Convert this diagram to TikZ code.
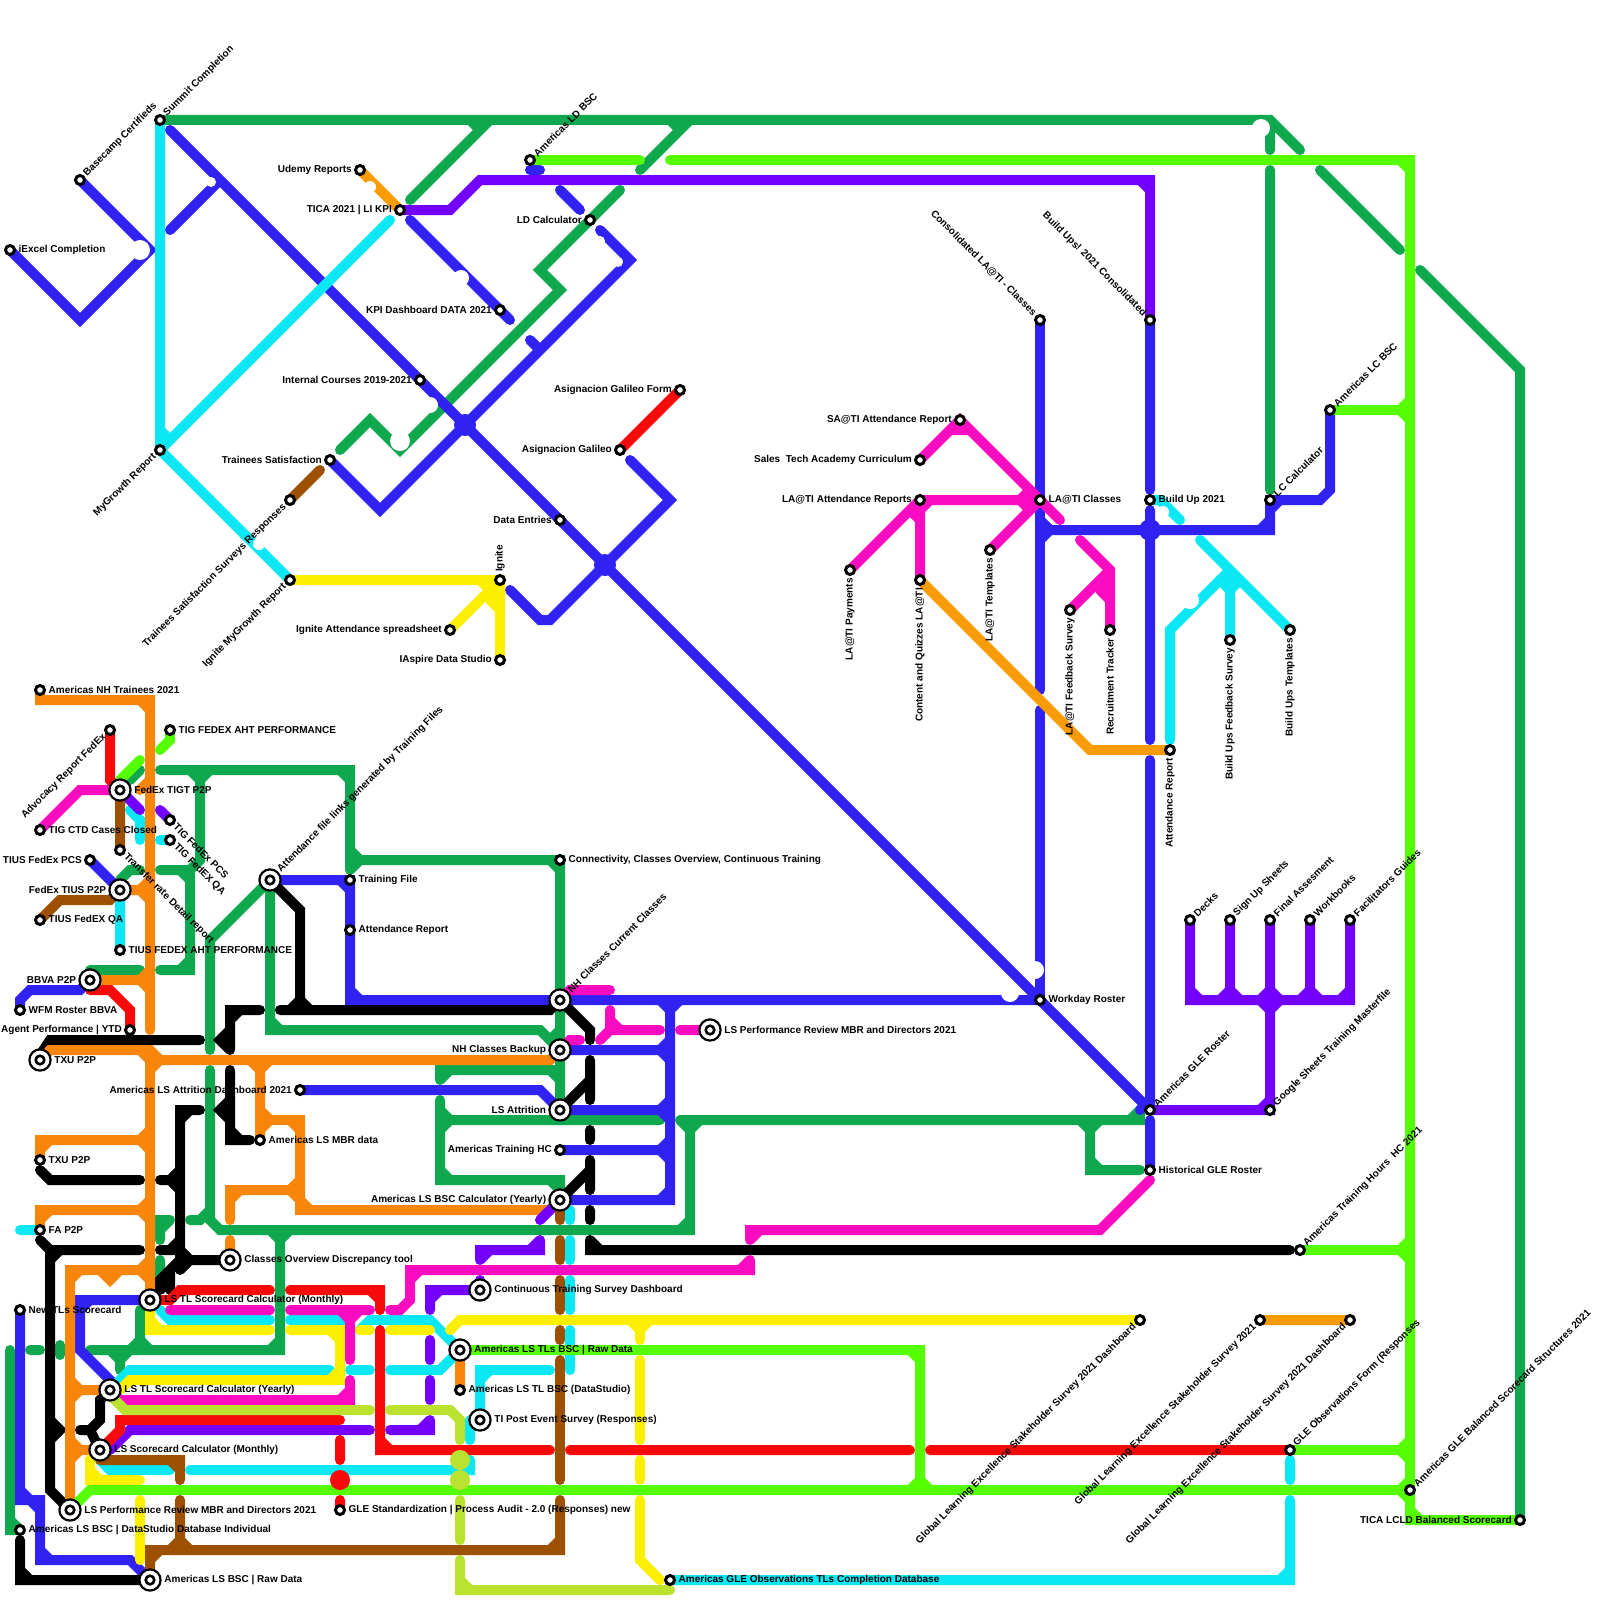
\documentclass[tikz,border=0pt]{standalone}
\usepackage{fontspec}
\setmainfont{Liberation Sans}
\usepackage{tikz}
\usetikzlibrary{positioning}
\definecolor{lnblue}{HTML}{2F22F3}
\definecolor{lngreen}{HTML}{0FA84F}
\definecolor{lncyan}{HTML}{0AE8F6}
\definecolor{lnorange}{HTML}{F8860A}
\definecolor{lnamber}{HTML}{FA9C00}
\definecolor{lnyellow}{HTML}{FCF000}
\definecolor{lnlime}{HTML}{55FF00}
\definecolor{lnviolet}{HTML}{7300FF}
\definecolor{lnpink}{HTML}{FB0CC0}
\definecolor{lnred}{HTML}{F80A0A}
\definecolor{lnbrown}{HTML}{9C5000}
\definecolor{lnolive}{HTML}{BCE230}
\begin{document}
\begin{tikzpicture}[
    x=1pt,y=-1pt,
    metro/.style={line width=10pt,line cap=round},
    blueline/.style={metro,lnblue},
    greenline/.style={metro,lngreen},
    cyanline/.style={metro,lncyan},
    orangeline/.style={metro,lnorange},
    amberline/.style={metro,lnamber},
    yellowline/.style={metro,lnyellow},
    limeline/.style={metro,lnlime},
    violetline/.style={metro,lnviolet},
    pinkline/.style={metro,lnpink},
    redline/.style={metro,lnred},
    brownline/.style={metro,lnbrown},
    oliveline/.style={metro,lnolive},
    blackline/.style={metro,black},
    st/.style={circle,draw=black,fill=white,line width=3pt,minimum size=9pt,inner sep=0pt},
    bst/.style={circle,draw=black,fill=white,line width=2.2pt,minimum size=21.2pt,inner sep=0pt,
        path picture={\draw[black,line width=2.6pt] (path picture bounding box.center) circle (4.3pt);}},
    lab/.style={font=\bfseries\fontsize{10pt}{11pt}\selectfont,inner sep=0pt,text=black},
]
\useasboundingbox (0,0) rectangle (1600,1600);
\fill[white] (0,0) rectangle (1600,1600);
% Green
\draw[greenline] (160,120) -- (1270,120) -- (1300,150) (1320,170) -- (1400,250) (1420,270) -- (1520,370) -- (1520,1520)
    (490,120) -- (410,200) (470,120) -- (480,130) (690,120) -- (640,170) (670,120) -- (680,130)
    (1270,130) -- (1270,150) (1270,170) -- (1270,490);
\draw[greenline] (620,190) -- (540,270) -- (560,290) -- (400,450) -- (370,420) -- (340,450);
\draw[greenline] (160,770) -- (350,770) -- (350,870) (340,770) -- (350,780) (350,850) -- (360,860) (350,870) -- (360,860)
    (350,860) -- (560,860) -- (560,1110) (550,860) -- (560,870);
\draw[greenline] (200,770) -- (200,860) -- (190,870) (190,770) -- (200,780) (210,770) -- (200,780)
    (160,870) -- (190,870) -- (190,970) -- (160,970) (180,870) -- (190,880) (180,970) -- (190,960);
\draw[greenline] (270,880) -- (210,940) -- (210,1050) (210,1070) -- (210,1220) -- (220,1230) -- (690,1230) -- (690,1120)
    (190,1220) -- (200,1220) -- (210,1210) (680,1120) -- (1140,1120) -- (1140,1110) (1130,1120) -- (1140,1110)
    (680,1120) -- (690,1130) (700,1120) -- (690,1130) (680,1230) -- (690,1220);
\draw[greenline] (1090,1120) -- (1090,1170) -- (1140,1170) (1080,1120) -- (1090,1130) (1100,1120) -- (1090,1130) (1090,1160) -- (1100,1170);
\draw[greenline] (270,880) -- (270,1030) -- (540,1030) -- (560,1050) (270,1020) -- (280,1030) (550,1040) -- (560,1030);
\draw[greenline] (90,970) -- (140,970) (130,780) -- (140,770) (120,880) -- (130,870) -- (140,870);
\draw[greenline] (160,1240) -- (160,1220) -- (170,1220) (160,1230) -- (170,1220) (160,1260) -- (160,1280);
\draw[greenline] (140,1310) -- (140,1350) (90,1350) -- (280,1350) -- (280,1230) (270,1230) -- (280,1240) (290,1230) -- (280,1240)
    (270,1350) -- (280,1340) (130,1350) -- (140,1340) (150,1350) -- (140,1340)
    (120,1350) -- (120,1370) (110,1350) -- (120,1360) (130,1350) -- (120,1360);
\draw[greenline] (10,1350) -- (10,1530) -- (20,1530) (10,1520) -- (20,1530) (30,1350) -- (40,1350) (60,1345) -- (60,1355);
\draw[greenline] (440,1080) -- (440,1070) -- (560,1070) (440,1080) -- (450,1070) (550,1070) -- (560,1080);
\draw[greenline] (440,1100) -- (440,1180) -- (560,1180) -- (560,1190) (440,1120) -- (660,1120)
    (440,1110) -- (450,1120) (440,1130) -- (450,1120) (440,1170) -- (450,1180) (550,1180) -- (560,1190);
% Blue
\draw[blueline] (10,250) -- (80,320) -- (150,250) -- (80,180);
\draw[blueline] (170,130) -- (1150,1110) (170,230) -- (220,180) (410,220) -- (510,320);
\draw[blueline] (330,460) -- (380,510) -- (630,260) -- (600,230) (530,340) -- (540,350);
\draw[blueline] (510,590) -- (540,620) -- (550,620) -- (670,500) -- (630,460);
\fill[lnblue] (465,425) circle (11pt) (605,565) circle (11pt) (1150,530) circle (11pt);
\draw[blueline] (530,170) -- (540,170) (560,190) -- (580,210);
\draw[blueline] (1040,320) -- (1040,690) (1040,710) -- (1040,1000);
\draw[blueline] (1040,530) -- (1270,530) -- (1270,500) -- (1320,500) -- (1330,490) -- (1330,410)
    (1040,520) -- (1050,530) (1040,540) -- (1050,530) (1260,530) -- (1270,520) (1270,510) -- (1280,500);
\draw[blueline] (1150,320) -- (1150,490) (1150,510) -- (1150,740) (1150,760) -- (1150,1110) (1140,1110) -- (1150,1100) (1150,1120) -- (1150,1170);
\draw[blueline] (90,860) -- (120,890) (20,1010) -- (20,1000) -- (30,990) -- (80,990) -- (90,980);
\draw[blueline] (270,880) -- (350,880) -- (350,1000) -- (1040,1000) (340,880) -- (350,890) (350,990) -- (360,1000);
\draw[blueline] (670,1000) -- (670,1200) -- (560,1200) (660,1000) -- (670,1010) (680,1000) -- (670,1010) (660,1200) -- (670,1190)
    (560,1050) -- (670,1050) (660,1050) -- (670,1040) (660,1050) -- (670,1060)
    (560,1110) -- (670,1110) (660,1110) -- (670,1100) (660,1110) -- (670,1120)
    (560,1150) -- (670,1150) (660,1150) -- (670,1140) (660,1150) -- (670,1160);
\draw[blueline] (300,1090) -- (540,1090) -- (560,1110);
\draw[blueline] (20,1310) -- (20,1500) -- (40,1500) -- (40,1560) -- (130,1560) -- (150,1580) (30,1500) -- (40,1510) (20,1490) -- (30,1500) (40,1550) -- (50,1560);
\draw[blueline] (150,1300) -- (80,1300) -- (80,1350) -- (115,1385) (80,1310) -- (90,1300);
% Black
\draw[blackline] (40,1055) -- (50,1040) -- (200,1040);
\draw[blackline] (260,1010) -- (230,1010) -- (230,1050) (230,1020) -- (240,1010) (230,1030) -- (220,1040) -- (230,1050);
\draw[blackline] (230,1070) -- (230,1140) -- (250,1140) (230,1130) -- (240,1140) (230,1100) -- (220,1110) -- (230,1120);
\draw[blackline] (200,1110) -- (180,1110) -- (180,1260) -- (230,1260) (180,1120) -- (190,1110) (180,1260) -- (150,1290) (170,1270) -- (170,1290) (160,1290) -- (170,1280) (180,1250) -- (190,1260) (180,1270) -- (190,1260)
    (160,1180) -- (180,1180) (170,1180) -- (180,1170) (170,1180) -- (180,1190) (160,1250) -- (180,1250) (170,1250) -- (180,1240);
\draw[blackline] (40,1170) -- (50,1180) -- (140,1180) (40,1240) -- (50,1250) -- (140,1250) (50,1250) -- (50,1490) -- (70,1510) (50,1260) -- (60,1250) (50,1420) -- (60,1430) -- (50,1440);
\draw[blackline] (80,1430) -- (90,1430) -- (100,1420) -- (100,1400) -- (110,1390) (90,1430) -- (100,1450);
\draw[blackline] (20,1540) -- (20,1580) -- (150,1580) (20,1570) -- (30,1580);
\draw[blackline] (270,880) -- (300,910) -- (300,1010) (290,1010) -- (300,1000) (310,1010) -- (300,1000) (280,1010) -- (550,1010) -- (560,1000);
\draw[blackline] (560,1000) -- (590,1030) -- (590,1040) (590,1060) -- (590,1100) (560,1110) -- (590,1080) (590,1130) -- (590,1140)
    (590,1160) -- (590,1190) (560,1200) -- (590,1170) (590,1210) -- (590,1220) (590,1240) -- (590,1250) -- (1290,1250) (590,1240) -- (600,1250);
% Orange
\draw[orangeline] (40,690) -- (40,700) -- (150,700) -- (150,1030) (140,700) -- (150,710) (140,790) -- (150,780)
    (120,890) -- (150,890) (140,890) -- (150,880) (140,890) -- (150,900) (90,980) -- (150,980) (140,980) -- (150,970) (140,980) -- (150,990);
\draw[orangeline] (40,1060) -- (50,1050) -- (150,1050) -- (160,1060) -- (550,1060) -- (560,1050) (150,1050) -- (150,1300) (140,1050) -- (150,1060) (150,1070) -- (160,1060);
\draw[orangeline] (40,1160) -- (40,1140) -- (150,1140) (40,1150) -- (50,1140) (140,1140) -- (150,1130) (140,1140) -- (150,1150);
\draw[orangeline] (40,1230) -- (40,1210) -- (150,1210) (40,1220) -- (50,1210) (140,1210) -- (150,1200) (140,1210) -- (150,1220);
\draw[orangeline] (70,1510) -- (70,1270) -- (150,1270) (70,1280) -- (80,1270) (140,1270) -- (150,1260) (140,1270) -- (150,1280) (100,1270) -- (110,1280) -- (120,1270);
\draw[orangeline] (70,1390) -- (110,1390) (70,1380) -- (80,1390) (70,1400) -- (80,1390) (70,1450) -- (100,1450) (70,1440) -- (80,1450) (70,1460) -- (80,1450);
\draw[orangeline] (260,1060) -- (260,1140) (250,1060) -- (260,1070) (270,1060) -- (260,1070) (260,1120) -- (300,1120) -- (300,1210) -- (550,1210) -- (560,1200)
    (260,1130) -- (270,1120) (260,1110) -- (270,1120) (290,1120) -- (300,1130) (300,1200) -- (310,1210);
\draw[orangeline] (300,1190) -- (230,1190) -- (230,1220) (230,1200) -- (240,1190) (290,1190) -- (300,1180) (290,1190) -- (300,1200) (230,1240) -- (230,1260) (460,1350) -- (460,1390);
\draw[amberline] (360,170) -- (400,210) (920,580) -- (1090,750) -- (1170,750) (1260,1320) -- (1350,1320);
% Cyan
\draw[cyanline] (160,120) -- (160,450) -- (290,580) (160,450) -- (390,220) (160,430) -- (170,440);
\draw[cyanline] (130,810) -- (140,820) -- (140,840) (160,840) -- (170,840) (120,890) -- (120,950) (20,1230) -- (40,1230);
\draw[cyanline] (160,1310) -- (170,1320) -- (270,1320) (290,1320) -- (340,1320) -- (350,1330) (360,1330) -- (370,1320) -- (430,1320) -- (460,1350);
\draw[cyanline] (110,1390) -- (130,1370) -- (330,1370) (350,1370) -- (370,1370) (390,1370) -- (440,1370) -- (460,1350);
\draw[cyanline] (100,1460) -- (110,1470) -- (170,1470) (190,1470) -- (470,1470) -- (470,1460) (470,1420) -- (470,1440);
\draw[cyanline] (480,1420) -- (480,1370) -- (550,1370) (480,1380) -- (490,1370);
\draw[cyanline] (570,1210) -- (570,1220) (570,1240) -- (570,1260) (570,1280) -- (570,1310) (570,1330) -- (570,1370);
\draw[cyanline] (1150,500) -- (1160,500) -- (1180,520) (1200,540) -- (1290,630) (1170,740) -- (1170,630) -- (1230,570) (1230,570) -- (1230,640) (1220,580) -- (1230,590) (1240,580) -- (1230,590);
\draw[cyanline] (1290,1460) -- (1290,1480) (1290,1500) -- (1290,1580) -- (670,1580) (1280,1580) -- (1290,1570);
% Yellow
\draw[yellowline] (290,580) -- (500,580) -- (500,660) (450,630) -- (500,580) (480,580) -- (490,590) (490,590) -- (500,600) (490,600) -- (500,610);
\draw[yellowline] (150,1300) -- (150,1330) -- (270,1330) (150,1320) -- (160,1330) (290,1330) -- (340,1330) -- (340,1380) -- (130,1380) -- (120,1390) (330,1330) -- (340,1340) (340,1370) -- (330,1380);
\draw[yellowline] (360,1330) -- (370,1330) (390,1330) -- (430,1330) (450,1330) -- (460,1320) -- (1140,1320);
\draw[yellowline] (640,1320) -- (640,1340) (630,1320) -- (640,1330) (650,1320) -- (640,1330) (640,1360) -- (640,1440) (640,1460) -- (640,1480) (640,1500) -- (640,1560) -- (660,1580);
\draw[yellowline] (100,1450) -- (90,1460) -- (90,1480) -- (140,1480) (90,1470) -- (100,1480) (140,1500) -- (140,1560);
% Lime
\draw[limeline] (530,160) -- (640,160) (670,160) -- (1410,160) -- (1410,1490) (1400,160) -- (1410,170);
\draw[limeline] (1330,410) -- (1410,410) (1400,410) -- (1410,400) (1400,410) -- (1410,420) (1300,1250) -- (1410,1250) (1400,1250) -- (1410,1240) (1400,1250) -- (1410,1260)
    (1290,1450) -- (1410,1450) (1400,1450) -- (1410,1440) (1400,1450) -- (1410,1460);
\draw[limeline] (70,1510) -- (90,1490) -- (1410,1490) (1400,1490) -- (1410,1480) (1400,1490) -- (1410,1500) (1410,1490) -- (1410,1520) -- (1520,1520) (1410,1510) -- (1420,1520);
\draw[limeline] (460,1350) -- (920,1350) -- (920,1490) (910,1350) -- (920,1360) (910,1490) -- (920,1480) (930,1490) -- (920,1480);
\draw[limeline] (120,780) -- (140,760) (160,750) -- (170,740) -- (170,730);
% Violet
\draw[violetline] (400,210) -- (450,210) -- (480,180) -- (1150,180) -- (1150,320) (1140,180) -- (1150,190);
\draw[violetline] (120,790) -- (140,810) (160,810) -- (170,820) (540,1220) -- (560,1200);
\draw[violetline] (480,1260) -- (480,1250) -- (540,1250) -- (540,1240) (480,1260) -- (490,1250) (530,1250) -- (540,1240);
\draw[violetline] (430,1310) -- (430,1290) -- (480,1290) (430,1300) -- (440,1290) (480,1280) -- (480,1290) (430,1340) -- (430,1360) (430,1380) -- (430,1400);
\draw[violetline] (430,1420) -- (430,1430) -- (390,1430) (420,1430) -- (430,1420) (370,1430) -- (130,1430) -- (110,1450);
\draw[violetline] (1190,920) -- (1190,1000) -- (1350,1000) -- (1350,920) (1230,920) -- (1230,1000) (1270,920) -- (1270,1110) -- (1150,1110) (1310,920) -- (1310,1000)
    (1190,990) -- (1200,1000) (1220,1000) -- (1230,990) (1240,1000) -- (1230,990) (1260,1000) -- (1270,990) (1280,1000) -- (1270,990)
    (1300,1000) -- (1310,990) (1320,1000) -- (1310,990) (1340,1000) -- (1350,990) (1260,1000) -- (1270,1010) (1280,1000) -- (1270,1010) (1260,1110) -- (1270,1100);
% Pink
\draw[pinkline] (40,830) -- (80,790) -- (120,790) (920,460) -- (950,430) -- (970,430) -- (1060,520) (950,430) -- (960,420) -- (970,430);
\draw[pinkline] (850,570) -- (920,500) -- (1040,500) (920,500) -- (920,580) (910,510) -- (920,520) (930,500) -- (920,510) (990,550) -- (1040,500) (1020,500) -- (1030,490) (1020,500) -- (1030,510);
\draw[pinkline] (1080,540) -- (1110,570) -- (1110,630) (1070,610) -- (1110,570) (1100,580) -- (1110,590) (1100,590) -- (1110,600);
\draw[pinkline] (560,1000) -- (570,990) -- (610,990) (560,1050) -- (570,1040) -- (580,1040) (600,1040) -- (610,1030) -- (660,1030) (610,1010) -- (610,1030) (610,1020) -- (620,1030) (680,1030) -- (710,1030);
\draw[pinkline] (170,1310) -- (270,1310) (290,1310) -- (370,1310) (350,1310) -- (350,1360) (340,1310) -- (350,1320) (360,1310) -- (350,1320);
\draw[pinkline] (350,1380) -- (350,1400) -- (120,1400) -- (110,1390) (340,1400) -- (350,1390);
\draw[pinkline] (390,1310) -- (400,1310) -- (410,1300) -- (410,1270) -- (750,1270) -- (750,1260) (410,1280) -- (420,1270) (740,1270) -- (750,1260)
    (750,1240) -- (750,1230) -- (1100,1230) -- (1150,1180) (750,1240) -- (760,1230);
% Red
\draw[redline] (110,730) -- (110,780) -- (120,790) (680,390) -- (620,450) (90,990) -- (110,990) -- (130,1010) -- (130,1030);
\draw[redline] (150,1300) -- (170,1300) -- (180,1290) -- (270,1290) (290,1290) -- (380,1290) -- (380,1310) (370,1290) -- (380,1300);
\draw[redline] (380,1330) -- (380,1450) -- (550,1450) (380,1440) -- (390,1450) (570,1450) -- (910,1450) (930,1450) -- (1290,1450);
\draw[redline] (100,1450) -- (120,1430) -- (120,1420) -- (340,1420) (340,1440) -- (340,1460) (340,1500) -- (340,1510);
\fill[lnred] (340,1480) circle (10pt);
% Olive
\draw[oliveline] (110,1395) -- (125,1410) -- (370,1410) (390,1410) -- (450,1410) -- (460,1420) -- (460,1440);
\fill[lnolive] (460,1460) circle (10pt) (460,1480) circle (10pt);
\draw[oliveline] (460,1500) -- (460,1540) (460,1560) -- (460,1590) -- (670,1590) (460,1580) -- (470,1590);
% Brown
\draw[brownline] (120,790) -- (120,850) (40,920) -- (60,900) -- (110,900) -- (120,890) (290,500) -- (320,470);
\draw[brownline] (100,1460) -- (180,1460) -- (180,1480) (170,1460) -- (180,1470) (180,1500) -- (180,1550) (170,1550) -- (180,1540) (190,1550) -- (180,1540);
\draw[brownline] (150,1580) -- (150,1550) -- (560,1550) -- (560,1500) (150,1560) -- (160,1550) (550,1550) -- (560,1540);
\draw[brownline] (560,1210) -- (560,1220) (560,1240) -- (560,1260) (560,1280) -- (560,1310) (560,1330) -- (560,1340) (560,1360) -- (560,1480);
% Bites
\foreach \x/\y/\r in {140/250/10,211/182/5,461/278/8,600/241/5,618/262/5,430/405/8,400/441/10,259/544/6,370/187/6,1261/128/9,1035/970/9,1010/993/9,1163/512/6,1190/600/9} {
    \fill[white] (\x,\y) circle (\r pt);
}
% Labels to the right
\foreach \x/\y/\s/\lab in {
    10/250/st/iExcel Completion, 40/690/st/Americas NH Trainees 2021, 170/730/st/TIG FEDEX AHT PERFORMANCE,
    120/790/bst/FedEx TIGT P2P, 40/830/st/TIG CTD Cases Closed, 40/920/st/TIUS FedEX QA, 120/950/st/TIUS FEDEX AHT PERFORMANCE,
    20/1010/st/WFM Roster BBVA, 40/1060/bst/TXU P2P, 40/1160/st/TXU P2P, 40/1230/st/FA P2P, 20/1310/st/New TLs Scorecard,
    150/1300/bst/LS TL Scorecard Calculator (Monthly), 110/1390/bst/LS TL Scorecard Calculator (Yearly),
    100/1450/bst/LS Scorecard Calculator (Monthly), 70/1510/bst/LS Performance Review MBR and Directors 2021,
    20/1530/st/Americas LS BSC | DataStudio Database Individual, 150/1580/bst/Americas LS BSC | Raw Data,
    350/880/st/Training File, 350/930/st/Attendance Report, 560/860/st/{Connectivity, Classes Overview, Continuous Training},
    260/1140/st/Americas LS MBR data, 230/1260/bst/Classes Overview Discrepancy tool, 480/1290/bst/Continuous Training Survey Dashboard,
    460/1350/bst/Americas LS TLs BSC | Raw Data, 460/1390/st/Americas LS TL BSC (DataStudio), 480/1420/bst/TI Post Event Survey (Responses),
    340/1510/st/GLE Standardization | Process Audit - 2.0 (Responses) new, 670/1580/st/Americas GLE Observations TLs Completion Database,
    710/1030/bst/LS Performance Review MBR and Directors 2021, 1040/500/st/LA@TI Classes, 1150/500/st/Build Up 2021,
    1040/1000/st/Workday Roster, 1150/1170/st/Historical GLE Roster
} {
    \node[\s] (n\x-\y) at (\x,\y) {};
    \node[lab,right=2.5pt of n\x-\y] (t\x-\y) {\lab};
}
% Labels to the left
\foreach \x/\y/\s/\lab in {
    360/170/st/Udemy Reports, 400/210/st/TICA 2021 | LI KPI, 590/220/st/LD Calculator, 500/310/st/KPI Dashboard DATA 2021,
    420/380/st/Internal Courses 2019-2021, 680/390/st/Asignacion Galileo Form, 620/450/st/Asignacion Galileo, 330/460/st/Trainees Satisfaction,
    560/520/st/Data Entries, 450/630/st/Ignite Attendance spreadsheet, 500/660/st/IAspire Data Studio,
    960/420/st/SA@TI Attendance Report, 920/460/st/Sales\ \ Tech Academy Curriculum, 920/500/st/LA@TI Attendance Reports,
    90/860/st/TIUS FedEx PCS, 120/890/bst/FedEx TIUS P2P, 90/980/bst/BBVA P2P, 130/1030/st/Agent Performance | YTD,
    300/1090/st/Americas LS Attrition Dashboard 2021, 560/1050/bst/NH Classes Backup, 560/1110/bst/LS Attrition, 560/1150/st/Americas Training HC,
    560/1200/bst/Americas LS BSC Calculator (Yearly), 1520/1520/st/TICA LCLD Balanced Scorecard
} {
    \node[\s] (n\x-\y) at (\x,\y) {};
    \node[lab,left=2pt of n\x-\y] (t\x-\y) {\lab};
}
% Labels going up at 45
\foreach \x/\y/\s/\lab in {
    80/180/st/Basecamp Certifieds, 160/120/st/Summit Completion, 530/160/st/Americas LD BSC, 270/880/bst/Attendance file links generated by Training Files,
    560/1000/bst/NH Classes Current Classes, 1270/500/st/LC Calculator, 1330/410/st/Americas LC BSC, 1190/920/st/Decks, 1230/920/st/Sign Up Sheets,
    1270/920/st/Final Assesment, 1310/920/st/Workbooks, 1350/920/st/Facilitators Guides, 1150/1110/st/Americas GLE Roster,
    1270/1110/st/Google Sheets Training Masterfile, 1300/1250/st/Americas Training Hours\ \ HC 2021, 1290/1450/st/GLE Observations Form (Responses,
    1410/1490/st/Americas GLE Balanced Scorecard Structures 2021
} {
    \node[\s] (n\x-\y) at (\x,\y) {};
    \node[lab,rotate=45,anchor=west] (t\x-\y) at ([shift={(1,-1)}]n\x-\y.north east) {\lab};
}
% Labels going down at 45
\foreach \x/\y/\s/\lab in {
    110/730/st/Advocacy Report FedEx, 160/450/st/MyGrowth Report, 290/500/st/Trainees Satisfaction Surveys Responses, 290/580/st/Ignite MyGrowth Report,
    1140/1320/st/Global Learning Excellence Stakeholder Survey 2021 Dashboard, 1260/1320/st/Global Learning Excellence Stakeholder Survey 2021,
    1350/1320/st/Global Learning Excellence Stakeholder Survey 2021 Dashboard
} {
    \node[\s] (n\x-\y) at (\x,\y) {};
    \node[lab,rotate=45,anchor=east] (t\x-\y) at ([shift={(-1,1)}]n\x-\y.south west) {\lab};
}
% Labels at -45
\foreach \x/\y/\s/\lab in {
    170/820/st/TIG FedEx PCS, 170/840/st/TIG FedEX QA, 120/850/st/Transfer rate Detail report
} {
    \node[\s] (n\x-\y) at (\x,\y) {};
    \node[lab,rotate=-45,anchor=west] (t\x-\y) at ([shift={(1,1)}]n\x-\y.south east) {\lab};
}
\foreach \x/\y/\s/\lab in {
    1040/320/st/Consolidated LA@TI - Classes, 1150/320/st/Build Ups! 2021 Consolidated
} {
    \node[\s] (n\x-\y) at (\x,\y) {};
    \node[lab,rotate=-45,anchor=east] (t\x-\y) at ([shift={(-1,-1)}]n\x-\y.north west) {\lab};
}
% Upright labels
\node[st] (ignite) at (500,580) {};
\node[lab,rotate=90,anchor=west] (tignite) at ([yshift=2pt]ignite.north) {Ignite};
\foreach \x/\y/\s/\lab in {
    850/570/st/LA@TI Payments, 920/580/st/Content and Quizzes LA@TI, 990/550/st/LA@TI Templates, 1070/610/st/LA@TI Feedback Survey,
    1110/630/st/Recruitment Tracker, 1170/750/st/Attendance Report, 1230/640/st/Build Ups Feedback Survey, 1290/630/st/Build Ups Templates
} {
    \node[\s] (n\x-\y) at (\x,\y) {};
    \node[lab,rotate=90,anchor=east] (t\x-\y) at ([yshift=-2pt]n\x-\y.south) {\lab};
}
\end{tikzpicture}
\end{document}
